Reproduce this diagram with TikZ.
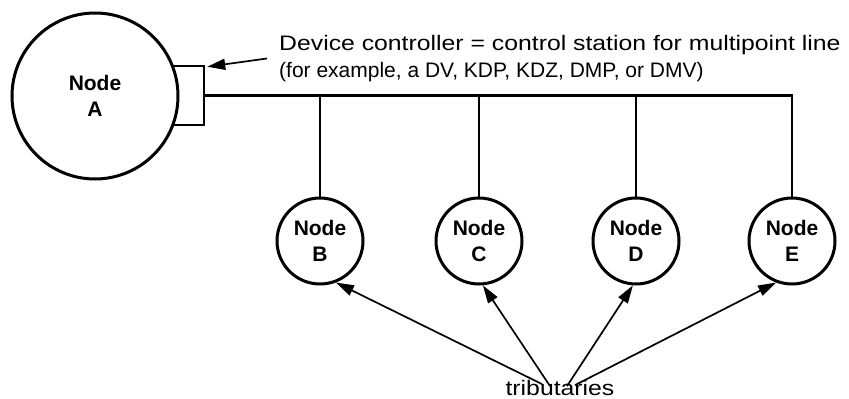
\documentclass[tikz,border=0pt]{standalone}
\usepackage{fontspec}
\setmainfont{Liberation Sans}
\newfontfamily\notefont[FakeStretch=1.18]{Liberation Sans}
\usetikzlibrary{arrows.meta}
\begin{document}
\begin{tikzpicture}[x=1pt,y=-1pt,
  nodelabel/.style={font=\fontsize{21}{26}\selectfont\bfseries,align=center},
  bignode/.style={circle,draw,line width=3pt,minimum size=166pt,inner sep=0pt,fill=white,nodelabel},
  smallnode/.style={circle,draw,line width=3pt,minimum size=86pt,inner sep=0pt,fill=white,nodelabel},
  ctrlbox/.style={draw,line width=2.5pt,fill=white,minimum width=54pt,minimum height=59pt,inner sep=0pt},
  busline/.style={line width=2.2pt},
  pointer/.style={line width=1.7pt,-{Triangle[length=18pt,width=11pt]}},
  note/.style={font=\notefont\fontsize{21}{27}\selectfont,align=left,inner sep=0pt}]
\useasboundingbox (0,0) rectangle (849,399);
% controller box and node A
\node[ctrlbox] (ctrl) at (177,95.5) {};
\node[bignode] (A) at (95,96) {Node\\A};
% tributary nodes
\node[smallnode] (B) at (320,241) {Node\\B};
\node[smallnode] (C) at (479,241) {Node\\C};
\node[smallnode] (D) at (636,241) {Node\\D};
\node[smallnode] (E) at (792,241) {Node\\E};
% multipoint line
\draw[busline] (ctrl.east) -- (ctrl.east -| E.north) -- (E.north);
\foreach \n in {B,C,D}{
  \draw[busline] (\n.north) -- (\n.north |- ctrl.east);
}
% texts
\node[note,anchor=north west] (dev) at (279,35)
  {Device controller = control station for multipoint line\\\rmfamily(for example, a DV, KDP, KDZ, DMP, or DMV)};
\node[note] (trib) at (560,388) {tributaries};
% pointers
\draw[pointer] ([xshift=-12pt]dev.west) -- ([xshift=2pt,yshift=-2pt]ctrl.north east);
\draw[pointer] ([xshift=-18pt,yshift=-4pt]trib.north) -- (B.-69);
\draw[pointer] ([xshift=-10pt,yshift=-6pt]trib.north) -- (C.-85);
\draw[pointer] ([xshift=7pt,yshift=-6pt]trib.north) -- (D.-94);
\draw[pointer] ([xshift=15pt,yshift=-5pt]trib.north) -- (E.-111);
\end{tikzpicture}
\end{document}
